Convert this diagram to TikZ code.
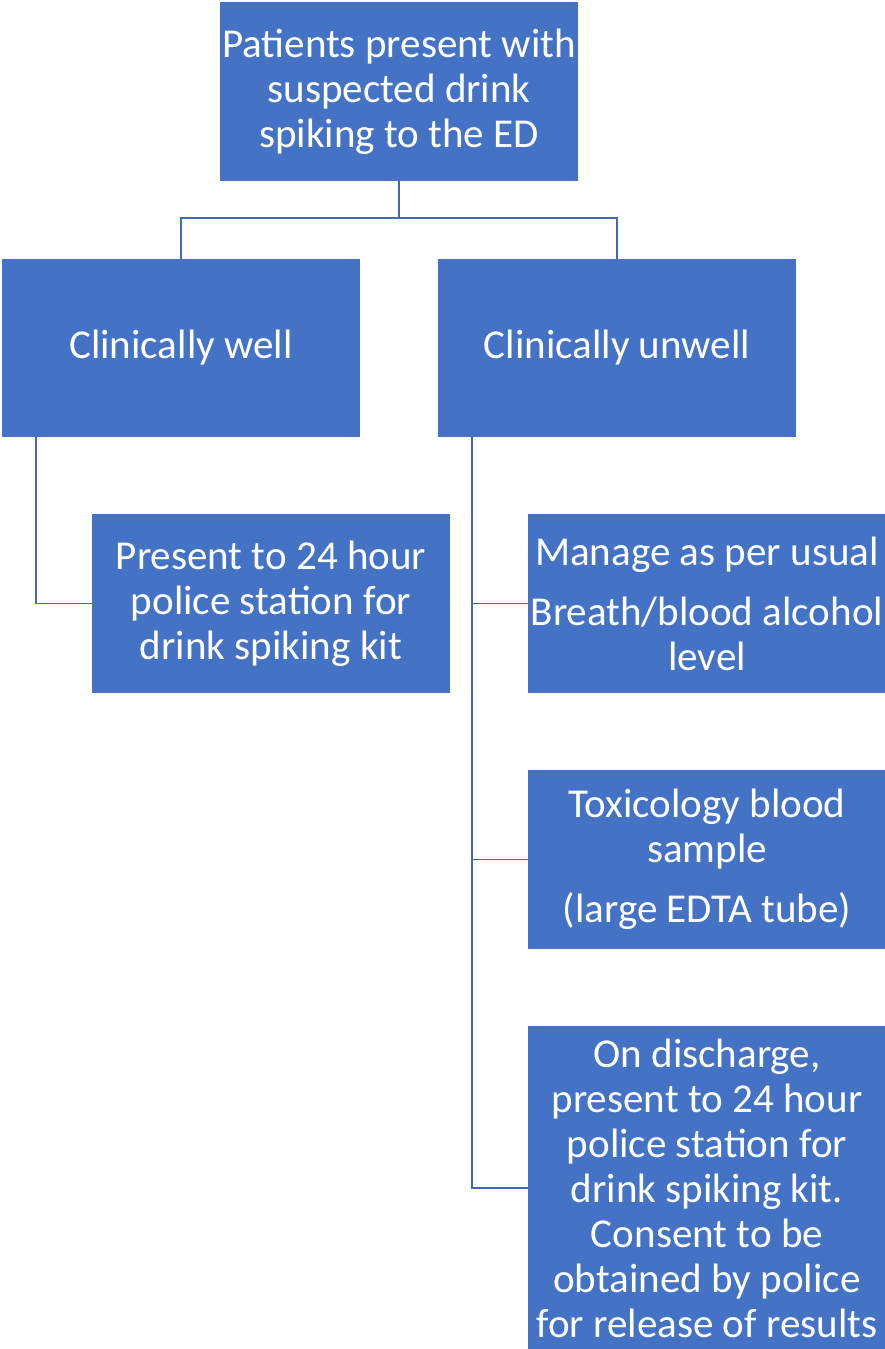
\documentclass[tikz,border=0pt]{standalone}
\usepackage{fontspec}
\setmainfont{Carlito}
\usepackage{xcolor}
\usepackage{tikz}
\definecolor{boxblue}{HTML}{4472C4}
\definecolor{lineblue}{HTML}{4169BA}

\begin{document}
\begin{tikzpicture}[x=0.025cm,y=-0.025cm,
box/.style={shape=rectangle,fill=boxblue,text=white,align=center,inner sep=0pt,
  minimum width=8.95cm,minimum height=4.45cm,font=\fontsize{29.2}{32}\selectfont},
link/.style={draw=lineblue,line width=1.4pt}]
\useasboundingbox (0,0) rectangle (885,1349);
\node[box] (patients) at (399,91.5) {Patients present with\\suspected drink\\spiking to the ED};
\node[box] (well) at (181,348) {Clinically well};
\node[box] (unwell) at (617,348) {Clinically unwell};
\node[box] (kit) at (271,603.5) {Present to 24 hour\\police station for\\drink spiking kit};
\node[box] (manage) at (707,603.5) {Manage as per usual\\[10.7pt]Breath/blood alcohol\\level};
\node[box] (tox) at (707,859.5) {Toxicology blood\\sample\\[10.7pt](large EDTA tube)};
\node[box,minimum height=8.1cm] (discharge) at (707,1188) {On discharge,\\present to 24 hour\\police station for\\drink spiking kit.\\Consent to be\\obtained by police\\for release of results};
\coordinate (fork) at (399,218);
\coordinate (lspine) at (36,437);
\coordinate (rspine) at (472,437);
\draw[link] (patients.south) -- (fork);
\draw[link] (well.north) |- (fork) -| (unwell.north);
\draw[link] (lspine) |- (kit.west);
\draw[link] (rspine) |- (discharge.west);
\draw[link] (rspine |- manage.west) -- (manage.west);
\draw[link] (rspine |- tox.west) -- (tox.west);
\end{tikzpicture}
\end{document}
